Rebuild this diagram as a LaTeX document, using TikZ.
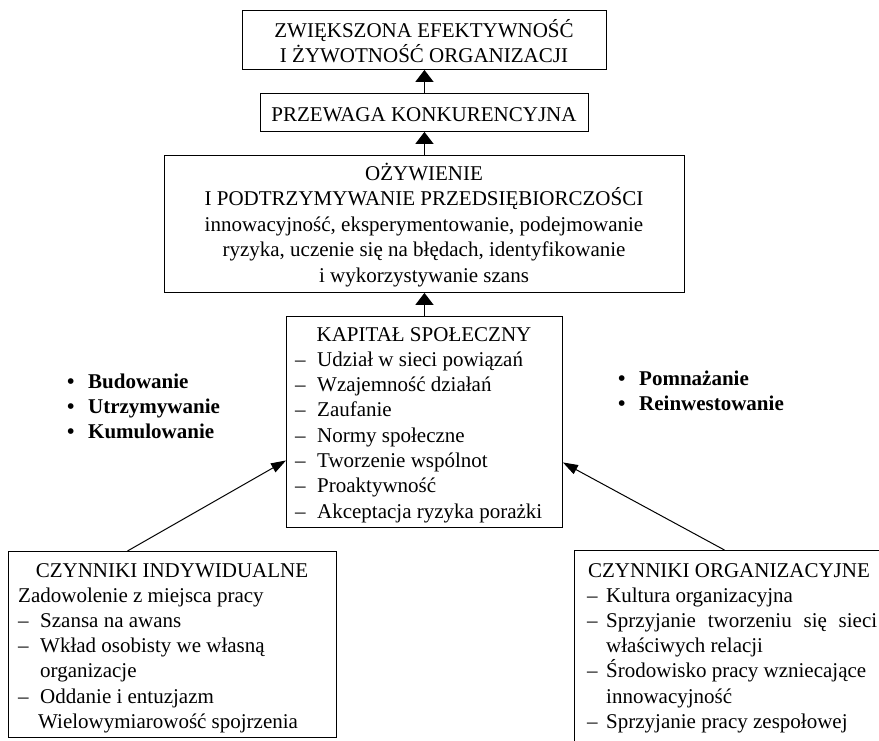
\documentclass[tikz,border=0pt]{standalone}
\usepackage{fontspec}
\setmainfont{Liberation Serif}
\usetikzlibrary{arrows.meta}
\begin{document}
\begin{tikzpicture}[x=1pt,y={(0pt,-1pt)},
  box/.style={draw,line width=0.9pt,inner sep=0pt,anchor=north west},
  txt/.style={anchor=base west,inner sep=0pt,font=\fontsize{21}{25}\selectfont},
  ctxt/.style={anchor=base,inner sep=0pt,font=\fontsize{21}{25}\selectfont},
  btxt/.style={anchor=base west,inner sep=0pt,font=\fontsize{21}{25}\selectfont\bfseries},
  varrow/.style={line width=1.5pt,-{Triangle[width=18pt,length=12pt]}},
  darrow/.style={line width=1pt,-{Triangle[width=10pt,length=15pt]}}]
\useasboundingbox (0,0) rectangle (879,740);
\clip (0,0) rectangle (879,740);
\newcommand{\dsh}{\makebox[22pt][l]{–}}
\newcommand{\dshr}{\makebox[19pt][l]{–}}
\newcommand{\bul}{\makebox[21pt][l]{\textbullet}}
% boxes
\node[box,minimum width=364pt,minimum height=59pt] (top) at (242,10) {};
\node[box,minimum width=328pt,minimum height=38pt] (adv) at (260,93) {};
\node[box,minimum width=520pt,minimum height=137pt] (rev) at (164,155) {};
\node[box,minimum width=276pt,minimum height=211pt] (kap) at (286,316) {};
\node[box,minimum width=328pt,minimum height=186pt] (indiv) at (8,551) {};
\node[box,minimum width=310pt,minimum height=200pt] (org) at (574,550) {};
% top
\node[ctxt] (t1) at (424,37) {ZWIĘKSZONA EFEKTYWNOŚĆ};
\node[ctxt] (t2) at (424,62) {I ŻYWOTNOŚĆ ORGANIZACJI};
\node[ctxt] (a1) at (424,121) {PRZEWAGA KONKURENCYJNA};
% revival
\node[ctxt] (r1) at (424,180) {OŻYWIENIE};
\node[ctxt] (r2) at (424,205.5) {I PODTRZYMYWANIE PRZEDSIĘBIORCZOŚCI};
\node[ctxt] (r3) at (424,231) {innowacyjność, eksperymentowanie, podejmowanie};
\node[ctxt] (r4) at (424,256.5) {ryzyka, uczenie się na błędach, identyfikowanie};
\node[ctxt] (r5) at (424,282) {i wykorzystywanie szans};
% social capital
\node[ctxt] (k0) at (424,341) {KAPITAŁ SPOŁECZNY};
\node[txt] (k1) at (295,366.3) {\dsh Udział w sieci powiązań};
\node[txt] (k2) at (295,391.6) {\dsh Wzajemność działań};
\node[txt] (k3) at (295,416.9) {\dsh Zaufanie};
\node[txt] (k4) at (295,442.2) {\dsh Normy społeczne};
\node[txt] (k5) at (295,467.5) {\dsh Tworzenie wspólnot};
\node[txt] (k6) at (295,492.8) {\dsh Proaktywność};
\node[txt] (k7) at (295,518.1) {\dsh Akceptacja ryzyka porażki};
% bullets
\node[btxt] (b1) at (67,388) {\bul Budowanie};
\node[btxt] (b2) at (67,413) {\bul Utrzymywanie};
\node[btxt] (b3) at (67,438) {\bul Kumulowanie};
\node[btxt] (b4) at (618,385) {\bul Pomnażanie};
\node[btxt] (b5) at (618,410) {\bul Reinwestowanie};
% individual
\node[ctxt] (i0) at (172,577) {CZYNNIKI INDYWIDUALNE};
\node[txt] (i1) at (18,602.2) {Zadowolenie z miejsca pracy};
\node[txt] (i2) at (18,627.4) {\dsh Szansa na awans};
\node[txt] (i3) at (18,652.6) {\dsh Wkład osobisty we własną};
\node[txt] (i4) at (40,677.8) {organizacje};
\node[txt] (i5) at (18,703) {\dsh Oddanie i entuzjazm};
\node[txt] (i6) at (38,728.2) {Wielowymiarowość spojrzenia};
% organizational
\node[ctxt] (o0) at (729,577) {CZYNNIKI ORGANIZACYJNE};
\node[txt] (o1) at (587,602.2) {\dshr Kultura organizacyjna};
\node[txt] (o2) at (587,627.4) {\dshr \makebox[271pt][s]{Sprzyjanie tworzeniu się sieci}};
\node[txt] (o3) at (606,652.6) {właściwych relacji};
\node[txt] (o4) at (587,677.8) {\dshr Środowisko pracy wzniecające};
\node[txt] (o5) at (606,703) {innowacyjność};
\node[txt] (o6) at (587,728.2) {\dshr Sprzyjanie pracy zespołowej};
% arrows
\draw[varrow] (adv.north) -- (top.south);
\draw[varrow] (rev.north) -- (adv.south);
\draw[varrow] (kap.north) -- (rev.south);
\draw[darrow] ([xshift=-45pt]indiv.north) -- ([yshift=-38.5pt]kap.west);
\draw[darrow] ([xshift=-5pt]org.north) -- ([yshift=-40.5pt]kap.east);
\end{tikzpicture}
\end{document}
